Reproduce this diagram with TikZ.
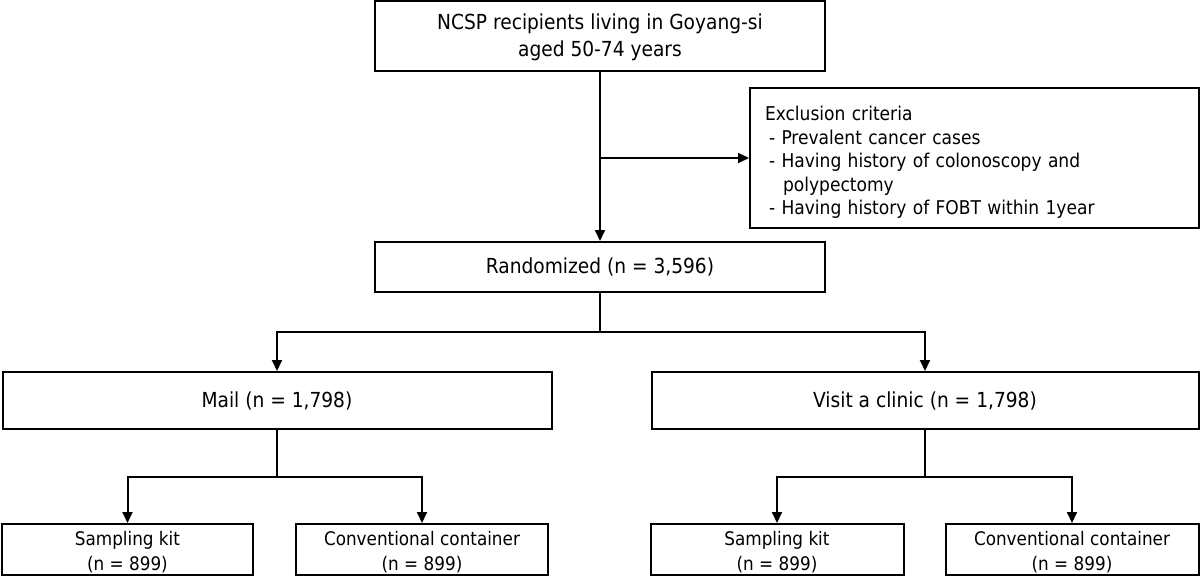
\documentclass[tikz,border=0pt]{standalone}
\usepackage{fontspec}
\setmainfont{DejaVu Sans Condensed}
\usetikzlibrary{arrows.meta}
\begin{document}
\begin{tikzpicture}[x=1pt,y=-1pt,
  box/.style={draw, line width=2pt, rectangle, inner sep=0pt, align=center, font=\fontsize{20.7}{27}\selectfont},
  small/.style={box, font=\fontsize{18.7}{25}\selectfont, minimum height=51pt},
  arr/.style={line width=2pt, -{Triangle[length=11pt,width=10pt]}},
  ln/.style={line width=2pt}]
\useasboundingbox (0,0) rectangle (1200,578);
\node[box, minimum width=450pt, minimum height=70pt] (top) at (600,36) {\rule{0pt}{18pt}NCSP recipients living in Goyang-si\\aged 50-74 years};
\node[box, align=left, text width=419pt, inner xsep=15pt, minimum height=140pt, font=\fontsize{19}{23.5}\selectfont] (excl) at (974.5,158) {\rule{0pt}{23pt}Exclusion criteria\\
\hspace*{4pt}- Prevalent cancer cases\\
\hspace*{4pt}- Having history of colonoscopy and\\
\hspace*{18pt}polypectomy\\
\hspace*{4pt}- Having history of FOBT within 1year};
\node[box, minimum width=450pt, minimum height=50pt] (rand) at (600,267) {Randomized (n = 3,596)};
\node[box, minimum width=549pt, minimum height=57pt] (mail) at (277,400.5) {Mail (n = 1,798)};
\node[box, minimum width=547pt, minimum height=57pt] (visit) at (925,400.5) {Visit a clinic (n = 1,798)};
\node[small, minimum width=251pt] (ms) at (127.5,549.5) {\rule{0pt}{20pt}Sampling kit\\(n = 899)};
\node[small, minimum width=252pt] (mc) at (422,549.5) {\rule{0pt}{20pt}Conventional container\\(n = 899)};
\node[small, minimum width=253pt] (vs) at (777,549.5) {\rule{0pt}{20pt}Sampling kit\\(n = 899)};
\node[small, minimum width=253pt] (vc) at (1072,549.5) {\rule{0pt}{20pt}Conventional container\\(n = 899)};
\coordinate (s1) at (600,332);
\coordinate (s2) at (277,477);
\coordinate (s3) at (925,477);
\draw[arr] (top.south) -- (rand.north);
\draw[arr] (top.south |- excl.west) -- (excl.west);
\draw[ln] (rand.south) -- (s1);
\draw[arr] (s1) -| (mail.north);
\draw[arr] (s1) -| (visit.north);
\draw[ln] (mail.south) -- (s2);
\draw[arr] (s2) -| (ms.north);
\draw[arr] (s2) -| (mc.north);
\draw[ln] (visit.south) -- (s3);
\draw[arr] (s3) -| (vs.north);
\draw[arr] (s3) -| (vc.north);
\end{tikzpicture}
\end{document}
